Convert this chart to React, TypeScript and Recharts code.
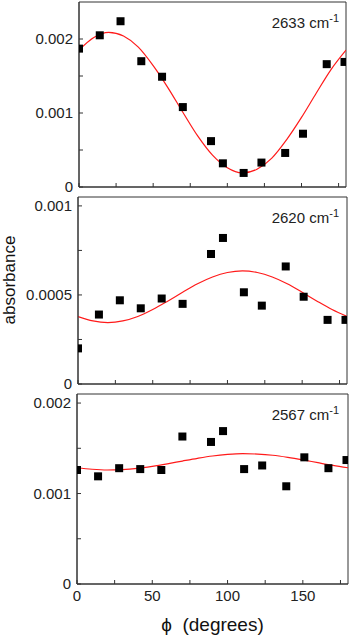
import React from "react";
import { ComposedChart, Scatter, Line, XAxis, YAxis, ReferenceArea } from "recharts";

// measured angles (degrees) and absorbances for the three bands
const phi = [0, 14, 28, 42, 56, 70, 89, 97, 111, 123, 139, 151, 167, 179];
const abs2633 = [0.00187, 0.00205, 0.00224, 0.0017, 0.00149, 0.00108, 0.00062, 0.00032, 0.00019, 0.00033, 0.00046, 0.00072, 0.00166, 0.00169];
const abs2620 = [0.0002, 0.00039, 0.00047, 0.000425, 0.00048, 0.00045, 0.00073, 0.00082, 0.000515, 0.00044, 0.00066, 0.00049, 0.00036, 0.00036];
const abs2567 = [0.00126, 0.00119, 0.00128, 0.00127, 0.00126, 0.00163, 0.00157, 0.00169, 0.00127, 0.00131, 0.00108, 0.0014, 0.00128, 0.00137];

// fitted curves, every 10 degrees
const fitPhi = [0, 10, 20, 30, 40, 50, 60, 70, 80, 90, 100, 110, 120, 130, 140, 150, 160, 170, 180];
const fit2633 = [0.00185, 0.00202, 0.00209, 0.00204, 0.00189, 0.00164, 0.00134, 0.00101, 0.00069, 0.00043, 0.00026, 0.00019, 0.00024, 0.00039, 0.00064, 0.00094, 0.00127, 0.00159, 0.00185];
const fit2620 = [0.000379, 0.000354, 0.000345, 0.000354, 0.000379, 0.000418, 0.000465, 0.000515, 0.000563, 0.000601, 0.000626, 0.000635, 0.000626, 0.000601, 0.000563, 0.000515, 0.000465, 0.000418, 0.000379];
const fit2567 = [0.001285, 0.001268, 0.00126, 0.001264, 0.001277, 0.0013, 0.001328, 0.001359, 0.001389, 0.001415, 0.001432, 0.00144, 0.001436, 0.001423, 0.0014, 0.001372, 0.001341, 0.001311, 0.001285];

const xTicks = [0, 25, 50, 75, 100, 125, 150, 175];
const xLabels = [0, 50, 100, 150];
const yTicks1 = [0, 0.0005, 0.001, 0.0015, 0.002];
const yLabels1 = [0, 0.001, 0.002];
const yTicks2 = [0, 0.00025, 0.0005, 0.00075, 0.001];
const yLabels2 = [0, 0.0005, 0.001];
const yTicks3 = [0, 0.0005, 0.001, 0.0015, 0.002];
const yLabels3 = [0, 0.001, 0.002];

const FONT = "'Liberation Sans', Arial, sans-serif";
const AX = "#333";

const toRows = (xs: number[], ys: number[]) => xs.map((x, i) => ({ phi: x, a: ys[i] }));

const Square = (p: any) => <rect x={p.cx - 4} y={p.cy - 4} width={8} height={8} fill="#000" />;

type PanelProps = {
  top: number;
  height: number;
  margin: { top: number; right: number; bottom: number; left: number };
  pts: number[];
  fit: number[];
  yMax: number;
  yTicks: number[];
  yLabels: number[];
  bottom?: boolean;
};

const Panel = ({ top, height, margin, pts, fit, yMax, yTicks, yLabels, bottom }: PanelProps) => (
  <div style={{ position: "absolute", left: 0, top }}>
    <ComposedChart width={350} height={height} margin={margin}>
      <XAxis
        dataKey="phi"
        type="number"
        domain={[0, 180]}
        ticks={xTicks}
        interval={0}
        allowDataOverflow
        height={bottom ? 52 : 3}
        tickSize={-4}
        tickMargin={10}
        stroke={AX}
        tick={{ fill: "#222", fontSize: 15, fontFamily: FONT }}
        tickFormatter={(v: number) => (bottom && xLabels.includes(v) ? String(v) : "")}
        label={
          bottom
            ? { value: "\u03d5\u00a0\u00a0(degrees)", position: "insideBottom", offset: 5, fill: "#111", fontSize: 19, fontFamily: FONT }
            : undefined
        }
      />
      <YAxis
        type="number"
        domain={[0, yMax]}
        ticks={yTicks}
        interval={0}
        allowDataOverflow
        width={70}
        tickSize={-4}
        tickMargin={10}
        stroke={AX}
        tick={{ fill: "#222", fontSize: 15, fontFamily: FONT }}
        tickFormatter={(v: number) => (yLabels.includes(v) ? String(v) : "")}
      />
      <ReferenceArea x1={0} x2={180} y1={0} y2={yMax} fill="none" stroke={AX} strokeWidth={1} ifOverflow="visible" />
      <Line
        data={toRows(fitPhi, fit)}
        dataKey="a"
        type="monotone"
        stroke="#ff1a1a"
        strokeWidth={1.2}
        dot={false}
        isAnimationActive={false}
      />
      <Scatter data={toRows(phi, pts)} dataKey="a" shape={Square} isAnimationActive={false} />
    </ComposedChart>
  </div>
);

const BandLabel = ({ y, band }: { y: number; band: string }) => (
  <text x={339} y={y} textAnchor="end" fontSize={15} fontFamily={FONT} fill="#222">
    {band} cm
    <tspan fontSize={11} dy={-6}>-1</tspan>
  </text>
);

export default function App() {
  return (
    <div style={{ position: "absolute", left: 0, top: 0, width: 350, height: 636, background: "#fff" }}>
      <Panel
        top={0}
        height={200}
        margin={{ top: 2, right: 4, bottom: 10, left: 9 }}
        pts={abs2633}
        fit={fit2633}
        yMax={0.0025}
        yTicks={yTicks1}
        yLabels={yLabels1}
      />
      <Panel
        top={190}
        height={207}
        margin={{ top: 7, right: 3, bottom: 10, left: 8 }}
        pts={abs2620}
        fit={fit2620}
        yMax={0.00105}
        yTicks={yTicks2}
        yLabels={yLabels2}
      />
      <Panel
        top={387}
        height={249}
        margin={{ top: 7, right: 2, bottom: 0, left: 7 }}
        pts={abs2567}
        fit={fit2567}
        yMax={0.0021}
        yTicks={yTicks3}
        yLabels={yLabels3}
        bottom
      />
      <svg width={350} height={636} style={{ position: "absolute", left: 0, top: 0, pointerEvents: "none" }}>
        <text
          x={0}
          y={0}
          transform="translate(15 280) rotate(-90)"
          textAnchor="middle"
          fontSize={17}
          fontFamily={FONT}
          fill="#111"
        >
          absorbance
        </text>
        <BandLabel y={28} band="2633" />
        <BandLabel y={223} band="2620" />
        <BandLabel y={420} band="2567" />
      </svg>
    </div>
  );
}
